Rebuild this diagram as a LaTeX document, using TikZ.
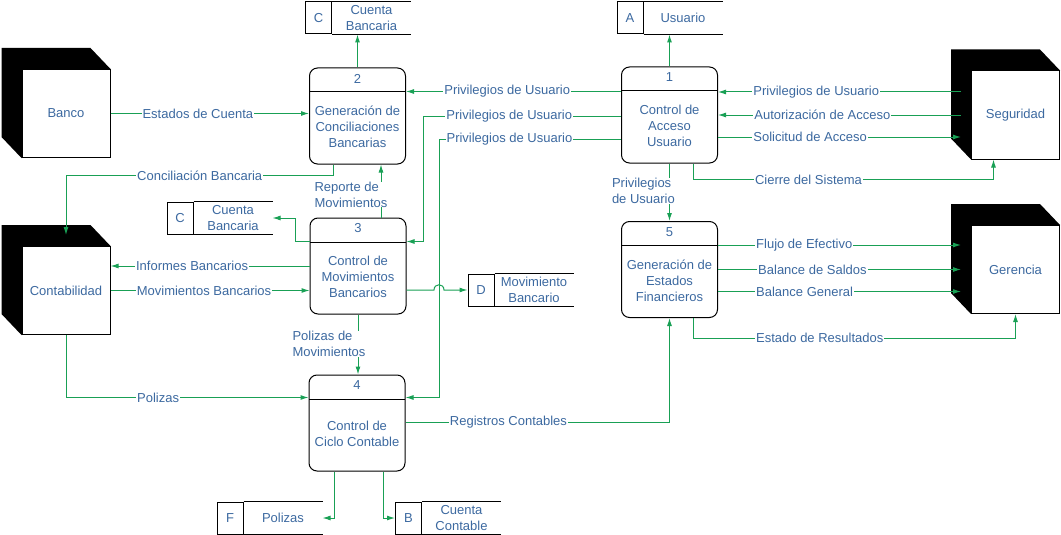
\documentclass[tikz,border=0pt]{standalone}
\usepackage{fontspec}
\setmainfont{Liberation Sans}
\usetikzlibrary{positioning,arrows.meta,backgrounds}
\definecolor{txtblue}{RGB}{60,105,160}
\definecolor{flowgreen}{RGB}{25,160,85}

\begin{document}
\begin{tikzpicture}[x=1pt,y=-1pt,line width=1pt,
    font=\fontsize{13}{16}\selectfont,
    every node/.style={text=txtblue},
    proc/.style={draw,rounded corners=8pt,minimum width=96pt,minimum height=96pt,inner sep=0pt,
      path picture={\draw ([yshift=-24pt]path picture bounding box.north west) -- ([yshift=-24pt]path picture bounding box.north east);}},
    ptext/.style={align=center,inner sep=0pt},
    ent/.style={draw,fill=white,minimum width=88pt,minimum height=88pt,inner sep=0pt},
    sid/.style={draw,minimum width=26pt,minimum height=32pt,inner sep=0pt},
    sname/.style={minimum width=78pt,minimum height=32pt,inner sep=0pt,align=center},
    flow/.style={draw=flowgreen,-{Latex[length=8pt,width=5pt]}},
    lbl/.style={fill=white,inner xsep=1pt,inner ysep=0pt}]
    \useasboundingbox (0,0) rectangle (1061,535);

    % entidades externas
    \node[ent] (banco) at (66,113.5) {Banco};
    \node[ent] (conta) at (66,290.5) {Contabilidad};
    \node[ent] (segu) at (1015.5,115) {Seguridad};
    \node[ent] (ger) at (1015.5,269.5) {Gerencia};
    \begin{scope}[on background layer]
      \foreach \e in {banco,conta,segu,ger}
        \fill ([shift={(-20pt,21pt)}]\e.north west) -- ([shift={(-20pt,21pt)}]\e.north east)
          -- (\e.north east) -- (\e.south west) -- ([shift={(-20pt,21pt)}]\e.south west) -- cycle;
    \end{scope}

    % procesos
    \node[proc] (p1) at (669.5,115) {};
    \node (p1n) at ([yshift=-11pt]p1.north) {1};
    \node[ptext] (p1t) at ([yshift=-11pt]p1.center) {Control de\\Acceso\\Usuario};
    \node[proc] (p2) at (357.5,116) {};
    \node (p2n) at ([yshift=-11pt]p2.north) {2};
    \node[ptext] (p2t) at ([yshift=-11pt]p2.center) {Generación de\\Conciliaciones\\Bancarias};
    \node[proc] (p3) at (358,266) {};
    \node (p3n) at ([yshift=-11pt]p3.north) {3};
    \node[ptext] (p3t) at ([yshift=-11pt]p3.center) {Control de\\Movimientos\\Bancarios};
    \node[proc] (p4) at (357,423) {};
    \node (p4n) at ([yshift=-11pt]p4.north) {4};
    \node[ptext] (p4t) at ([yshift=-11pt]p4.center) {Control de\\Ciclo Contable};
    \node[proc] (p5) at (669.5,269.5) {};
    \node (p5n) at ([yshift=-11pt]p5.north) {5};
    \node[ptext] (p5t) at ([yshift=-11pt]p5.center) {Generación de\\Estados\\Financieros};

    % almacenes
    \node[sid] (sAid) at (630,18) {A};
    \node[sname,right=0pt of sAid] (sA) {Usuario};
    \node[sid] (sCid) at (318.5,18) {C};
    \node[sname,right=0pt of sCid] (sC) {Cuenta\\Bancaria};
    \node[sid] (sC2id) at (180,218) {C};
    \node[sname,right=0pt of sC2id] (sC2) {Cuenta\\Bancaria};
    \node[sid] (sDid) at (481,290) {D};
    \node[sname,right=0pt of sDid] (sD) {Movimiento\\Bancario};
    \node[sid] (sFid) at (230,518) {F};
    \node[sname,right=0pt of sFid] (sF) {Polizas};
    \node[sid] (sBid) at (408.5,518) {B};
    \node[sname,right=0pt of sBid] (sB) {Cuenta\\Contable};
    \foreach \s in {sA,sC,sC2,sD,sF,sB}
      \draw (\s.north west) -- (\s.north east) (\s.south west) -- (\s.south east);

    % flujos
    \draw[flow] (banco.east) -- (banco.east -| p2.west) node[lbl,pos=.44] {Estados de Cuenta};
    \draw[flow] (p2.north) -- (p2.north |- sC.south);
    \draw[flow] ([yshift=-25pt]p1.north west) -- ([yshift=-25pt]p1.north west -| p2.east)
      node[lbl,pos=.23,anchor=east] {Privilegios de Usuario};
    \draw[flow] ([yshift=-1pt]p1.west) -| node[lbl,pos=.12,anchor=east] {Privilegios de Usuario}
      ([xshift=17pt]p3.north east) |- ([yshift=-24pt]p3.north east);
    \draw[flow] ([yshift=-24pt]p1.west) -| node[lbl,pos=.13,anchor=east] {Privilegios de Usuario}
      ([xshift=34pt]p4.north east) |- ([yshift=-23pt]p4.north east);
    \draw[flow] ([xshift=-24pt]p2.south) -- ++(0,11) -| node[lbl,pos=.25] {Conciliación Bancaria}
      ([yshift=11pt]conta.north);
    \draw[flow] ([xshift=23pt]p3.north) -- ([xshift=23pt]p3.north |- p2.south)
      node[lbl,pos=.43,align=left,anchor=west,xshift=-68pt] {Reporte de\\Movimientos};
    \draw[flow] ([yshift=-24pt]p3.north west) -- ++(-14,0) |- (sC2.east);
    \draw[flow] (p3.west) -- (p3.west -| conta.east) node[lbl,pos=.59] {Informes Bancarios};
    \draw[flow] (conta.east) -- (conta.east -| p3.west) node[lbl,pos=.47] {Movimientos Bancarios};
    \draw[flow] (p3.east |- sDid.west) -- (434,290) .. controls (434,283) and (444,283) .. (444,290)
      -- (sDid.west);
    \draw[flow] (p3.south) -- (p3.south |- p4.north)
      node[lbl,pos=.49,align=left,anchor=west,xshift=-67pt] {Polizas de\\Movimientos};
    \draw[flow] (conta.south) |- node[lbl,pos=.69] {Polizas} ([yshift=-23pt]p4.north west);
    \draw[flow] ([yshift=-48pt]p4.north east) -| node[lbl,pos=.195] {Registros Contables} (p5.south);
    \draw[flow] ([xshift=-23pt]p4.south) |- (sF.east);
    \draw[flow] ([xshift=26pt]p4.south) |- (sBid.west);
    \draw[flow] (p1.north) -- (p1.north |- sA.south);
    \draw[flow] (p1.south) -- (p5.north)
      node[lbl,pos=.48,align=left,anchor=west,xshift=-59pt] {Privilegios\\de Usuario};
    \draw[flow,shorten <=10pt] ([yshift=23pt]segu.west) -- ([yshift=23pt]p1.east)
      node[lbl,pos=.866,anchor=west] {Privilegios de Usuario};
    \draw[flow,shorten <=10pt] (segu.west) -- (p1.east)
      node[lbl,pos=.862,anchor=west] {Autorización de Acceso};
    \draw[flow,shorten >=10pt] ([yshift=-22pt]p1.east) -- ([yshift=-22pt]segu.west)
      node[lbl,pos=.134,anchor=west] {Solicitud de Acceso};
    \draw[flow] ([xshift=24pt]p1.south) -- ++(0,16) -| node[lbl,pos=.1,anchor=west] {Cierre del Sistema}
      ([xshift=-22pt]segu.south);
    \draw[flow,shorten >=10pt] ([yshift=-24pt]p5.north east) -- ([yshift=-24pt]p5.north east -| ger.west)
      node[lbl,pos=.145,anchor=west] {Flujo de Efectivo};
    \draw[flow,shorten >=10pt] (p5.east) -- (ger.west) node[lbl,pos=.153,anchor=west] {Balance de Saldos};
    \draw[flow,shorten >=10pt] ([yshift=-22pt]p5.east) -- ([yshift=-22pt]ger.west)
      node[lbl,pos=.145,anchor=west] {Balance General};
    \draw[flow] ([xshift=24pt]p5.south) -- ++(0,20) -| node[lbl,pos=.095,anchor=west] {Estado de Resultados}
      (ger.south);
\end{tikzpicture}
\end{document}
